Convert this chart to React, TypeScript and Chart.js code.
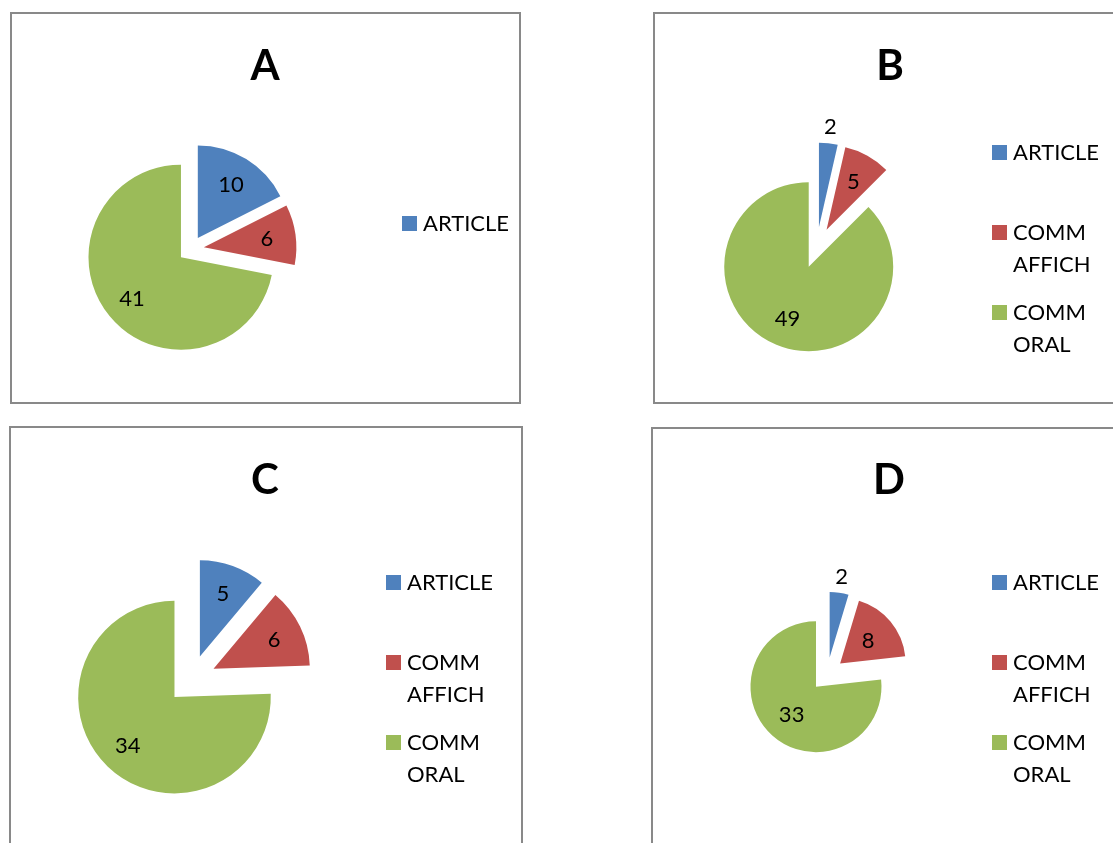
import React, { useEffect, useRef } from 'react';
import { Chart, registerables } from 'chart.js';

Chart.register(...registerables);

// ---------- data ----------
const categories = ['ARTICLE', 'COMM AFFICH', 'COMM ORAL'];
const sliceColors = ['#4F81BD', '#C0504D', '#9BBB59'];
const chartTitles = ['A', 'B', 'C', 'D'];
const valuesA = [10, 6, 41];
const valuesB = [2, 5, 49];
const valuesC = [5, 6, 34];
const valuesD = [2, 8, 33];
const legendCounts = [1, 3, 3, 3];

// ---------- layout / style ----------
const FONT = 'Lato, "Open Sans", "Liberation Sans", sans-serif';
const LABEL_SIZE = 22;
const TITLE_SIZE = 42;
const CAP = 0.7165;

type Panel = {
  title: string;
  values: number[];
  legendCount: number;
  box: { x: number; y: number; w: number; h: number };
  center: { x: number; y: number };
  radius: number;
  explode: number;
  titlePos: { x: number; y: number };
  legendPos: { x: number; y: number };
};

const panels: Panel[] = [
  {
    title: chartTitles[0], values: valuesA, legendCount: legendCounts[0],
    box: { x: 10, y: 12, w: 511, h: 392 },
    center: { x: 191, y: 249 }, radius: 92.5, explode: 13,
    titlePos: { x: 265, y: 80 }, legendPos: { x: 423, y: 231 },
  },
  {
    title: chartTitles[1], values: valuesB, legendCount: legendCounts[1],
    box: { x: 653, y: 12, w: 511, h: 392 },
    center: { x: 816.6, y: 247.7 }, radius: 84.5, explode: 20.6,
    titlePos: { x: 890, y: 80 }, legendPos: { x: 1013, y: 160 },
  },
  {
    title: chartTitles[2], values: valuesC, legendCount: legendCounts[2],
    box: { x: 9, y: 426, w: 514, h: 430 },
    center: { x: 191.5, y: 679.5 }, radius: 96.3, explode: 24.5,
    titlePos: { x: 265, y: 494 }, legendPos: { x: 407, y: 590 },
  },
  {
    title: chartTitles[3], values: valuesD, legendCount: legendCounts[3],
    box: { x: 651, y: 427, w: 511, h: 430 },
    center: { x: 827.2, y: 674.2 }, radius: 65.5, explode: 16.8,
    titlePos: { x: 889, y: 494 }, legendPos: { x: 1013, y: 590 },
  },
];

// Move every slice outward along its mid-angle (exploded pie)
const explodePlugin = {
  id: 'explode',
  afterDatasetUpdate(chart: any, args: any, opts: any) {
    const d = (opts && opts.distance) || 0;
    args.meta.data.forEach((arc: any) => {
      const mid = (arc.startAngle + arc.endAngle) / 2;
      arc.x += Math.cos(mid) * d;
      arc.y += Math.sin(mid) * d;
    });
  },
};

// Title, value labels and legend
const overlayPlugin = {
  id: 'overlay',
  afterDatasetsDraw(chart: any, _args: any, opts: any) {
    const ctx: CanvasRenderingContext2D = chart.ctx;
    const meta = chart.getDatasetMeta(0);
    const ds = chart.data.datasets[0];
    const labels: string[] = chart.data.labels;
    ctx.save();
    ctx.fillStyle = '#000';
    ctx.textBaseline = 'alphabetic';

    // value labels
    ctx.font = `${LABEL_SIZE}px ${FONT}`;
    ctx.textAlign = 'center';
    const capHalf = (CAP * LABEL_SIZE) / 2;
    meta.data.forEach((arc: any, i: number) => {
      const mid = (arc.startAngle + arc.endAngle) / 2;
      const span = arc.endAngle - arc.startAngle;
      const dist = span < 0.44 ? arc.outerRadius + opts.outsideGap : arc.outerRadius - opts.insideInset;
      const x = arc.x + Math.cos(mid) * dist;
      const y = arc.y + Math.sin(mid) * dist;
      ctx.fillText(String(ds.data[i]), x, y + capHalf);
    });

    // title
    ctx.font = `bold ${TITLE_SIZE}px ${FONT}`;
    ctx.fillText(opts.title, opts.titleX, opts.titleY);

    // legend
    ctx.font = `${LABEL_SIZE}px ${FONT}`;
    ctx.textAlign = 'left';
    for (let k = 0; k < opts.legendCount; k++) {
      const base = opts.legendY + k * opts.slot;
      ctx.fillStyle = ds.backgroundColor[k];
      ctx.fillRect(opts.legendX - 21, base - 15, 15, 15);
      ctx.fillStyle = '#000';
      labels[k].split(' ').forEach((line, j) => {
        ctx.fillText(line, opts.legendX, base + j * opts.lineHeight);
      });
    }
    ctx.restore();
  },
};

function PiePanel({ p }: { p: Panel }) {
  const ref = useRef<HTMLCanvasElement>(null);
  useEffect(() => {
    const canvas = ref.current;
    if (!canvas) return;
    const cx = p.center.x - p.box.x;
    const cy = p.center.y - p.box.y;
    const s = 5;
    const chart = new Chart(canvas, {
      type: 'pie',
      data: {
        labels: categories,
        datasets: [
          {
            data: p.values,
            backgroundColor: sliceColors,
            borderWidth: 0,
            radius: p.radius,
            clip: false,
          } as any,
        ],
      },
      options: {
        responsive: false,
        animation: false,
        events: [],
        radius: p.radius,
        layout: {
          padding: { left: cx - s, right: p.box.w - cx - s, top: cy - s, bottom: p.box.h - cy - s },
        },
        plugins: {
          legend: { display: false },
          title: { display: false },
          tooltip: { enabled: false },
          explode: { distance: p.explode },
          overlay: {
            title: p.title,
            titleX: p.titlePos.x - p.box.x,
            titleY: p.titlePos.y - p.box.y,
            legendX: p.legendPos.x - p.box.x,
            legendY: p.legendPos.y - p.box.y,
            legendCount: p.legendCount,
            slot: 80,
            lineHeight: 31.7,
            insideInset: 29,
            outsideGap: 17,
          },
        },
      } as any,
      plugins: [explodePlugin, overlayPlugin],
    });
    let alive = true;
    if ((document as any).fonts && (document as any).fonts.ready) {
      (document as any).fonts.ready.then(() => {
        if (alive) chart.update();
      });
    }
    return () => {
      alive = false;
      chart.destroy();
    };
  }, [p]);

  return (
    <div style={{ position: 'absolute', left: p.box.x, top: p.box.y, width: p.box.w, height: p.box.h }}>
      <canvas
        ref={ref}
        width={p.box.w}
        height={p.box.h}
        style={{ position: 'absolute', left: 0, top: 0, width: p.box.w, height: p.box.h }}
      />
      <div
        style={{
          position: 'absolute',
          left: 0,
          top: 0,
          width: p.box.w,
          height: p.box.h,
          border: '2px solid #898989',
          boxSizing: 'border-box',
          pointerEvents: 'none',
        }}
      />
    </div>
  );
}

export default function App() {
  return (
    <div
      style={{
        position: 'fixed',
        left: 0,
        top: 0,
        width: 1113,
        height: 843,
        overflow: 'hidden',
        background: '#fff',
      }}
    >
      {panels.map((p) => (
        <PiePanel key={p.title} p={p} />
      ))}
    </div>
  );
}
